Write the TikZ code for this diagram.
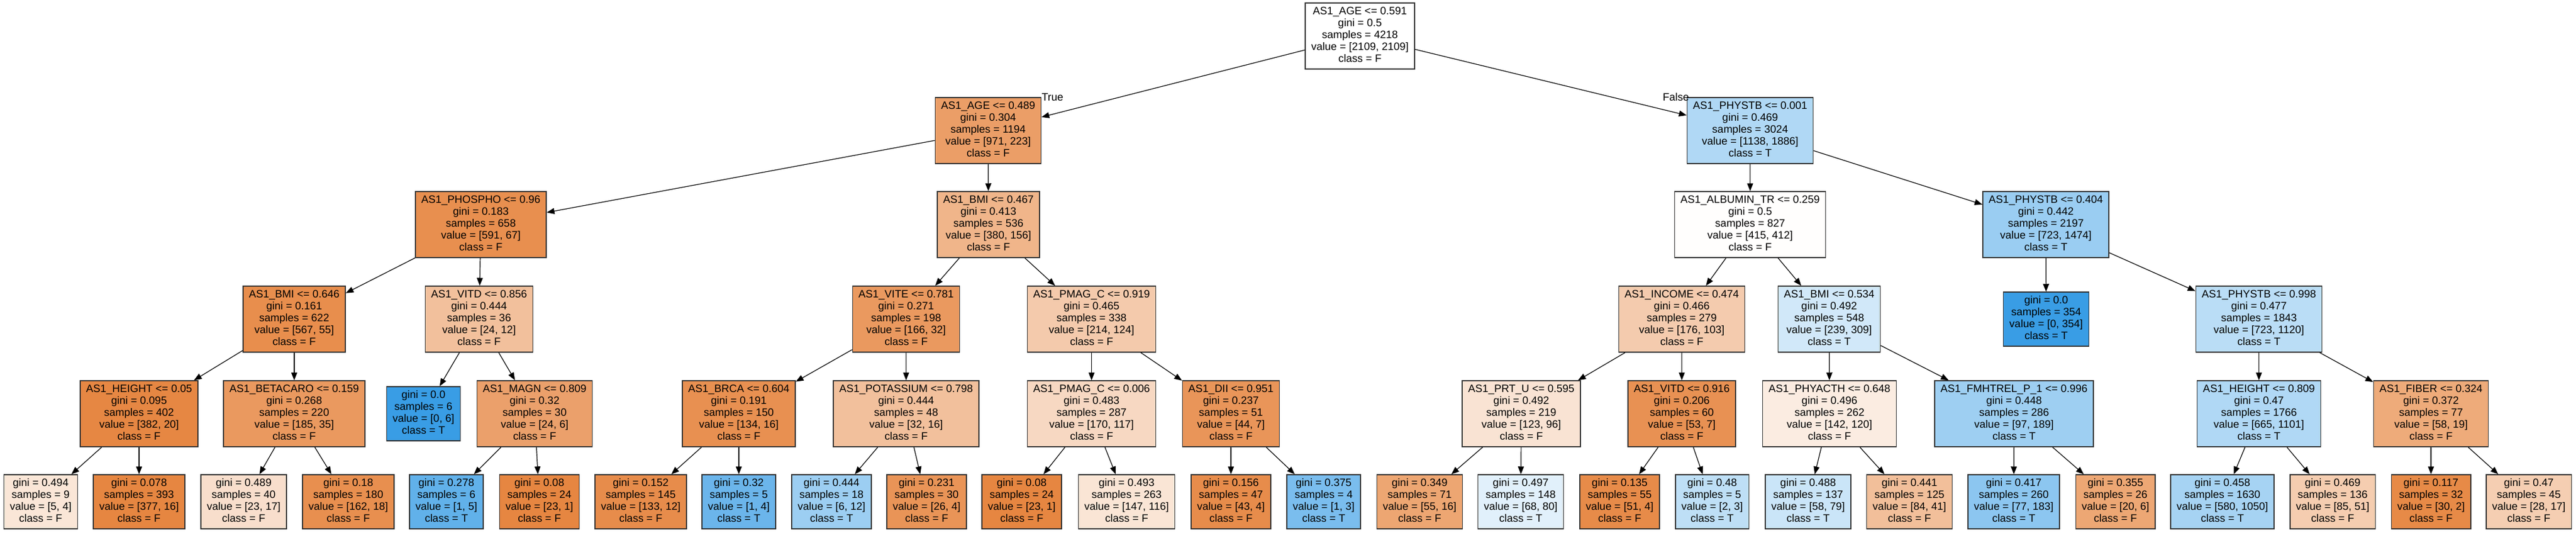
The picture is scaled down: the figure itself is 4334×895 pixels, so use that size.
\documentclass[tikz,border=0pt]{standalone}
\usepackage{fontspec}
\setmainfont{Liberation Sans}
\usetikzlibrary{arrows.meta}
\definecolor{clsF}{RGB}{229,129,57}
\definecolor{clsT}{RGB}{57,157,229}
\newcommand{\dtlines}[1]{\begin{tabular}{@{}c@{}}#1\end{tabular}}
\begin{document}
\begin{tikzpicture}[x=1pt, y=-1pt,
    box/.style={draw=black!80, line width=1.5pt, rectangle, inner xsep=10pt, inner ysep=2pt, font=\fontsize{18}{20}\selectfont},
    split/.style={box, minimum height=111pt},
    leaf/.style={box, minimum height=91pt},
    edge/.style={line width=1.2pt, -{Triangle[length=13pt, width=10pt]}},
    branch/.style={font=\fontsize{18}{20}\selectfont, inner sep=0pt}]
  \useasboundingbox (0,0) rectangle (4334,895);

  \node [split, fill=white] (root) at (2288,60.5) {\dtlines{AS1\_AGE <= 0.591\\gini = 0.5\\samples = 4218\\value = [2109, 2109]\\class = F}};

  \node [split, fill=clsF!77] (age489) at (1662.5,219.5) {\dtlines{AS1\_AGE <= 0.489\\gini = 0.304\\samples = 1194\\value = [971, 223]\\class = F}};
  \node [split, fill=clsT!40] (phystbA) at (2944.5,219.5) {\dtlines{AS1\_PHYSTB <= 0.001\\gini = 0.469\\samples = 3024\\value = [1138, 1886]\\class = T}};

  \node [split, fill=clsF!89] (phospho) at (809,377.5) {\dtlines{AS1\_PHOSPHO <= 0.96\\gini = 0.183\\samples = 658\\value = [591, 67]\\class = F}};
  \node [split, fill=clsF!59] (bmiA) at (1663,377.5) {\dtlines{AS1\_BMI <= 0.467\\gini = 0.413\\samples = 536\\value = [380, 156]\\class = F}};
  \node [split, fill=clsF!1] (albumin) at (2944.5,377.5) {\dtlines{AS1\_ALBUMIN\_TR <= 0.259\\gini = 0.5\\samples = 827\\value = [415, 412]\\class = F}};
  \node [split, fill=clsT!51] (phystbB) at (3442,377.5) {\dtlines{AS1\_PHYSTB <= 0.404\\gini = 0.442\\samples = 2197\\value = [723, 1474]\\class = T}};

  \node [split, fill=clsF!90] (bmiB) at (495,536.5) {\dtlines{AS1\_BMI <= 0.646\\gini = 0.161\\samples = 622\\value = [567, 55]\\class = F}};
  \node [split, fill=clsF!50] (vitdA) at (806,536.5) {\dtlines{AS1\_VITD <= 0.856\\gini = 0.444\\samples = 36\\value = [24, 12]\\class = F}};
  \node [split, fill=clsF!81] (vite) at (1524.5,536.5) {\dtlines{AS1\_VITE <= 0.781\\gini = 0.271\\samples = 198\\value = [166, 32]\\class = F}};
  \node [split, fill=clsF!42] (pmagA) at (1836.5,536.5) {\dtlines{AS1\_PMAG\_C <= 0.919\\gini = 0.465\\samples = 338\\value = [214, 124]\\class = F}};
  \node [split, fill=clsF!41] (income) at (2829.5,536.5) {\dtlines{AS1\_INCOME <= 0.474\\gini = 0.466\\samples = 279\\value = [176, 103]\\class = F}};
  \node [split, fill=clsT!23] (bmiC) at (3077.5,536.5) {\dtlines{AS1\_BMI <= 0.534\\gini = 0.492\\samples = 548\\value = [239, 309]\\class = T}};
  \node [leaf, fill=clsT] (pure354) at (3442.5,536.5) {\dtlines{gini = 0.0\\samples = 354\\value = [0, 354]\\class = T}};
  \node [split, fill=clsT!35] (phystbC) at (3800.5,536.5) {\dtlines{AS1\_PHYSTB <= 0.998\\gini = 0.477\\samples = 1843\\value = [723, 1120]\\class = T}};

  \node [split, fill=clsF!95] (heightA) at (234,695.5) {\dtlines{AS1\_HEIGHT <= 0.05\\gini = 0.095\\samples = 402\\value = [382, 20]\\class = F}};
  \node [split, fill=clsF!81] (betacaro) at (495,695.5) {\dtlines{AS1\_BETACARO <= 0.159\\gini = 0.268\\samples = 220\\value = [185, 35]\\class = F}};
  \node [leaf, fill=clsT] (pure6) at (712.5,695.5) {\dtlines{gini = 0.0\\samples = 6\\value = [0, 6]\\class = T}};
  \node [split, fill=clsF!75] (magn) at (899.5,695.5) {\dtlines{AS1\_MAGN <= 0.809\\gini = 0.32\\samples = 30\\value = [24, 6]\\class = F}};
  \node [split, fill=clsF!88] (brca) at (1243,695.5) {\dtlines{AS1\_BRCA <= 0.604\\gini = 0.191\\samples = 150\\value = [134, 16]\\class = F}};
  \node [split, fill=clsF!50] (potassium) at (1524.5,695.5) {\dtlines{AS1\_POTASSIUM <= 0.798\\gini = 0.444\\samples = 48\\value = [32, 16]\\class = F}};
  \node [split, fill=clsF!31] (pmagB) at (1836.5,695.5) {\dtlines{AS1\_PMAG\_C <= 0.006\\gini = 0.483\\samples = 287\\value = [170, 117]\\class = F}};
  \node [split, fill=clsF!84] (dii) at (2071,695.5) {\dtlines{AS1\_DII <= 0.951\\gini = 0.237\\samples = 51\\value = [44, 7]\\class = F}};
  \node [split, fill=clsF!22] (prtu) at (2559.5,695.5) {\dtlines{AS1\_PRT\_U <= 0.595\\gini = 0.492\\samples = 219\\value = [123, 96]\\class = F}};
  \node [split, fill=clsF!87] (vitdB) at (2829.5,695.5) {\dtlines{AS1\_VITD <= 0.916\\gini = 0.206\\samples = 60\\value = [53, 7]\\class = F}};
  \node [split, fill=clsF!15] (phyacth) at (3078,695.5) {\dtlines{AS1\_PHYACTH <= 0.648\\gini = 0.496\\samples = 262\\value = [142, 120]\\class = F}};
  \node [split, fill=clsT!49] (fmhtrel) at (3388.5,695.5) {\dtlines{AS1\_FMHTREL\_P\_1 <= 0.996\\gini = 0.448\\samples = 286\\value = [97, 189]\\class = T}};
  \node [split, fill=clsT!40] (heightB) at (3800.5,695.5) {\dtlines{AS1\_HEIGHT <= 0.809\\gini = 0.47\\samples = 1766\\value = [665, 1101]\\class = T}};
  \node [split, fill=clsF!67] (fiber) at (4090,695.5) {\dtlines{AS1\_FIBER <= 0.324\\gini = 0.372\\samples = 77\\value = [58, 19]\\class = F}};

  \node [leaf, fill=clsF!20] (l1) at (68.5,843.5) {\dtlines{gini = 0.494\\samples = 9\\value = [5, 4]\\class = F}};
  \node [leaf, fill=clsF!96] (l2) at (234,843.5) {\dtlines{gini = 0.078\\samples = 393\\value = [377, 16]\\class = F}};
  \node [leaf, fill=clsF!26] (l3) at (410,843.5) {\dtlines{gini = 0.489\\samples = 40\\value = [23, 17]\\class = F}};
  \node [leaf, fill=clsF!89] (l4) at (586,843.5) {\dtlines{gini = 0.18\\samples = 180\\value = [162, 18]\\class = F}};
  \node [leaf, fill=clsT!80] (l5) at (751,843.5) {\dtlines{gini = 0.278\\samples = 6\\value = [1, 5]\\class = T}};
  \node [leaf, fill=clsF!96] (l6) at (907.5,843.5) {\dtlines{gini = 0.08\\samples = 24\\value = [23, 1]\\class = F}};
  \node [leaf, fill=clsF!91] (l7) at (1078,843.5) {\dtlines{gini = 0.152\\samples = 145\\value = [133, 12]\\class = F}};
  \node [leaf, fill=clsT!75] (l8) at (1243,843.5) {\dtlines{gini = 0.32\\samples = 5\\value = [1, 4]\\class = T}};
  \node [leaf, fill=clsT!50] (l9) at (1399,843.5) {\dtlines{gini = 0.444\\samples = 18\\value = [6, 12]\\class = T}};
  \node [leaf, fill=clsF!85] (l10) at (1559,843.5) {\dtlines{gini = 0.231\\samples = 30\\value = [26, 4]\\class = F}};
  \node [leaf, fill=clsF!96] (l11) at (1719,843.5) {\dtlines{gini = 0.08\\samples = 24\\value = [23, 1]\\class = F}};
  \node [leaf, fill=clsF!21] (l12) at (1895.5,843.5) {\dtlines{gini = 0.493\\samples = 263\\value = [147, 116]\\class = F}};
  \node [leaf, fill=clsF!91] (l13) at (2071,843.5) {\dtlines{gini = 0.156\\samples = 47\\value = [43, 4]\\class = F}};
  \node [leaf, fill=clsT!67] (l14) at (2227,843.5) {\dtlines{gini = 0.375\\samples = 4\\value = [1, 3]\\class = T}};
  \node [leaf, fill=clsF!71] (l15) at (2388.5,843.5) {\dtlines{gini = 0.349\\samples = 71\\value = [55, 16]\\class = F}};
  \node [leaf, fill=clsT!15] (l16) at (2558.5,843.5) {\dtlines{gini = 0.497\\samples = 148\\value = [68, 80]\\class = T}};
  \node [leaf, fill=clsF!92] (l17) at (2725,843.5) {\dtlines{gini = 0.135\\samples = 55\\value = [51, 4]\\class = F}};
  \node [leaf, fill=clsT!33] (l18) at (2880.5,843.5) {\dtlines{gini = 0.48\\samples = 5\\value = [2, 3]\\class = T}};
  \node [leaf, fill=clsT!27] (l19) at (3042,843.5) {\dtlines{gini = 0.488\\samples = 137\\value = [58, 79]\\class = T}};
  \node [leaf, fill=clsF!51] (l20) at (3212.5,843.5) {\dtlines{gini = 0.441\\samples = 125\\value = [84, 41]\\class = F}};
  \node [leaf, fill=clsT!58] (l21) at (3388,843.5) {\dtlines{gini = 0.417\\samples = 260\\value = [77, 183]\\class = T}};
  \node [leaf, fill=clsF!70] (l22) at (3559,843.5) {\dtlines{gini = 0.355\\samples = 26\\value = [20, 6]\\class = F}};
  \node [leaf, fill=clsT!45] (l23) at (3739,843.5) {\dtlines{gini = 0.458\\samples = 1630\\value = [580, 1050]\\class = T}};
  \node [leaf, fill=clsF!40] (l24) at (3924.5,843.5) {\dtlines{gini = 0.469\\samples = 136\\value = [85, 51]\\class = F}};
  \node [leaf, fill=clsF!93] (l25) at (4090,843.5) {\dtlines{gini = 0.117\\samples = 32\\value = [30, 2]\\class = F}};
  \node [leaf, fill=clsF!39] (l26) at (4254.5,843.5) {\dtlines{gini = 0.47\\samples = 45\\value = [28, 17]\\class = F}};

  \draw [edge] (root) -- (age489); \draw [edge] (root) -- (phystbA);
  \draw [edge] (age489) -- (phospho); \draw [edge] (age489) -- (bmiA);
  \draw [edge] (phystbA) -- (albumin); \draw [edge] (phystbA) -- (phystbB);
  \draw [edge] (phospho) -- (bmiB); \draw [edge] (phospho) -- (vitdA);
  \draw [edge] (bmiA) -- (vite); \draw [edge] (bmiA) -- (pmagA);
  \draw [edge] (albumin) -- (income); \draw [edge] (albumin) -- (bmiC);
  \draw [edge] (phystbB) -- (pure354); \draw [edge] (phystbB) -- (phystbC);
  \draw [edge] (bmiB) -- (heightA); \draw [edge] (bmiB) -- (betacaro);
  \draw [edge] (vitdA) -- (pure6); \draw [edge] (vitdA) -- (magn);
  \draw [edge] (vite) -- (brca); \draw [edge] (vite) -- (potassium);
  \draw [edge] (pmagA) -- (pmagB); \draw [edge] (pmagA) -- (dii);
  \draw [edge] (income) -- (prtu); \draw [edge] (income) -- (vitdB);
  \draw [edge] (bmiC) -- (phyacth); \draw [edge] (bmiC) -- (fmhtrel);
  \draw [edge] (phystbC) -- (heightB); \draw [edge] (phystbC) -- (fiber);
  \draw [edge] (heightA) -- (l1); \draw [edge] (heightA) -- (l2);
  \draw [edge] (betacaro) -- (l3); \draw [edge] (betacaro) -- (l4);
  \draw [edge] (magn) -- (l5); \draw [edge] (magn) -- (l6);
  \draw [edge] (brca) -- (l7); \draw [edge] (brca) -- (l8);
  \draw [edge] (potassium) -- (l9); \draw [edge] (potassium) -- (l10);
  \draw [edge] (pmagB) -- (l11); \draw [edge] (pmagB) -- (l12);
  \draw [edge] (dii) -- (l13); \draw [edge] (dii) -- (l14);
  \draw [edge] (prtu) -- (l15); \draw [edge] (prtu) -- (l16);
  \draw [edge] (vitdB) -- (l17); \draw [edge] (vitdB) -- (l18);
  \draw [edge] (phyacth) -- (l19); \draw [edge] (phyacth) -- (l20);
  \draw [edge] (fmhtrel) -- (l21); \draw [edge] (fmhtrel) -- (l22);
  \draw [edge] (heightB) -- (l23); \draw [edge] (heightB) -- (l24);
  \draw [edge] (fiber) -- (l25); \draw [edge] (fiber) -- (l26);

  \node [branch, anchor=west] (truelab) at (age489.north east) {True};
  \node [branch, anchor=east, xshift=4pt] (falselab) at (phystbA.north west) {False};
\end{tikzpicture}
\end{document}
